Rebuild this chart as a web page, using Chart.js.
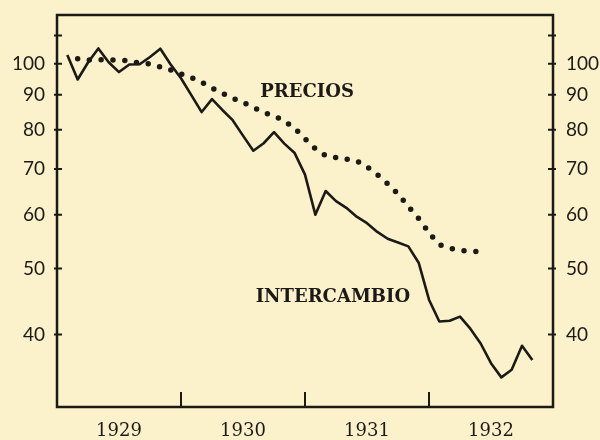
<!DOCTYPE html>
<html lang="es">
<head>
<meta charset="UTF-8">
<title>Precios e intercambio, 1929-1932</title>
<script src="https://cdn.jsdelivr.net/npm/chart.js"></script>
<style>
  html, body { margin: 0; padding: 0; background: #fbf2cb; }
  #wrap { width: 600px; height: 440px; }
</style>
</head>
<body>
<div id="wrap"><canvas id="grafico"></canvas></div>
<script>
// Serie mensual, índice 0 = enero 1929 ... 45 = octubre 1932
const meses = [
  'ene 1929','feb 1929','mar 1929','abr 1929','may 1929','jun 1929','jul 1929','ago 1929','sep 1929','oct 1929','nov 1929','dic 1929',
  'ene 1930','feb 1930','mar 1930','abr 1930','may 1930','jun 1930','jul 1930','ago 1930','sep 1930','oct 1930','nov 1930','dic 1930',
  'ene 1931','feb 1931','mar 1931','abr 1931','may 1931','jun 1931','jul 1931','ago 1931','sep 1931','oct 1931','nov 1931','dic 1931',
  'ene 1932','feb 1932','mar 1932','abr 1932','may 1932','jun 1932','jul 1932','ago 1932','sep 1932','oct 1932'
];

const intercambio = [
  103.0, 94.8, 100.4, 105.3, 100.5, 97.2, 99.7, 99.8, 102.3, 105.2, 99.7, 95.2,
  89.9, 84.9, 88.7, 85.5, 82.6, 78.4, 74.5, 76.4, 79.3, 76.3, 73.9, 68.7,
  60.0, 65.0, 62.8, 61.4, 59.6, 58.3, 56.6, 55.3, 54.6, 53.9, 51.0, 45.0,
  41.8, 41.9, 42.5, 40.8, 38.8, 36.3, 34.6, 35.5, 38.5, 36.7
];

const precios = [
  null, 101.7, 101.3, 101.3, 101.3, 101.1, 101.0, 100.2, 99.9, 98.9, 97.9, 96.6,
  95.4, 93.9, 92.1, 90.5, 89.0, 87.7, 86.3, 84.8, 83.8, 82.3, 80.3, 77.6,
  75.0, 73.3, 72.8, 72.4, 71.9, 70.5, 68.7, 66.6, 64.3, 61.7, 59.2, 56.5,
  54.3, 53.6, 53.2, 53.0, 53.0
];

const anios = ['1929', '1930', '1931', '1932'];
const centroAnio = [5, 17, 29, 41];     // mitad de cada año en el eje x
const corteAnio = [11, 23, 35];         // separaciones entre años
const marcasY = [40, 50, 60, 70, 80, 90, 100, 110];

const puntos = arr => arr.map((v, i) => v === null ? null : { x: i, y: v }).filter(p => p);

const papel = '#fbf2cb';
const tinta = '#1c1a17';

// fondo, marco y marcas interiores
const marco = {
  id: 'marco',
  beforeDraw(chart) {
    const ctx = chart.ctx;
    ctx.save();
    ctx.fillStyle = papel;
    ctx.fillRect(0, 0, chart.width, chart.height);
    ctx.restore();
  },
  afterDraw(chart) {
    const { ctx, chartArea: a, scales } = chart;
    ctx.save();
    ctx.strokeStyle = tinta;
    ctx.lineWidth = 2.5;
    ctx.strokeRect(a.left, a.top, a.right - a.left, a.bottom - a.top);
    ctx.lineWidth = 2;
    ctx.beginPath();
    marcasY.forEach(v => {
      const y = scales.y.getPixelForValue(v);
      ctx.moveTo(a.left - 3, y); ctx.lineTo(a.left + 5, y);
      ctx.moveTo(a.right + 3, y); ctx.lineTo(a.right - 5, y);
    });
    corteAnio.forEach(v => {
      const x = scales.x.getPixelForValue(v);
      ctx.moveTo(x, a.bottom); ctx.lineTo(x, a.bottom - 15);
    });
    ctx.stroke();

    // rótulos de las series
    ctx.fillStyle = tinta;
    ctx.font = 'bold 18px "DejaVu Serif"';
    ctx.textAlign = 'center';
    ctx.textBaseline = 'middle';
    ctx.fillText('PRECIOS', scales.x.getPixelForValue(23.2), scales.y.getPixelForValue(90.8));
    ctx.fillText('INTERCAMBIO', scales.x.getPixelForValue(25.7), scales.y.getPixelForValue(45.3));
    ctx.restore();
  }
};

const ejeY = (posicion, ancho, relleno) => ({
  type: 'logarithmic',
  position: posicion,
  min: 31.3,
  max: 117.9,
  afterBuildTicks: s => { s.ticks = marcasY.map(v => ({ value: v })); },
  afterFit: s => { s.width = ancho; s.paddingTop = 0; s.paddingBottom = 0; },
  grid: { display: false, drawTicks: false },
  border: { display: false },
  ticks: {
    color: tinta,
    padding: relleno,
    font: { family: 'Lato', size: 19 },
    callback: v => v === 110 ? '' : String(v)
  }
});

new Chart(document.getElementById('grafico'), {
  type: 'line',
  data: {
    labels: meses,
    datasets: [
      {
        label: 'INTERCAMBIO',
        data: puntos(intercambio),
        borderColor: tinta,
        borderWidth: 2.6,
        pointRadius: 0,
        tension: 0,
        borderJoinStyle: 'round',
        yAxisID: 'y'
      },
      {
        label: 'PRECIOS',
        data: puntos(precios),
        borderColor: tinta,
        borderWidth: 5.5,
        borderDash: [0, 11.8],
        borderCapStyle: 'round',
        pointRadius: 0,
        tension: 0.3,
        yAxisID: 'y'
      }
    ]
  },
  options: {
    responsive: true,
    maintainAspectRatio: false,
    animation: false,
    layout: { padding: { top: 15, left: 0, right: 0, bottom: 0 } },
    plugins: { legend: { display: false }, tooltip: { enabled: false } },
    scales: {
      x: {
        type: 'linear',
        min: -1,
        max: 47,
        afterBuildTicks: s => { s.ticks = centroAnio.map(v => ({ value: v })); },
        afterFit: s => { s.height = 33; s.paddingLeft = 0; s.paddingRight = 0; },
        grid: { display: false, drawTicks: false },
        border: { display: false },
        ticks: {
          color: tinta,
          padding: 14,
          autoSkip: false,
          maxRotation: 0,
          font: { family: 'DejaVu Serif', size: 18 },
          callback: v => anios[centroAnio.indexOf(v)]
        }
      },
      y: ejeY('left', 57, 12),
      y2: ejeY('right', 47, 13)
    }
  },
  plugins: [marco]
});
</script>
</body>
</html>
